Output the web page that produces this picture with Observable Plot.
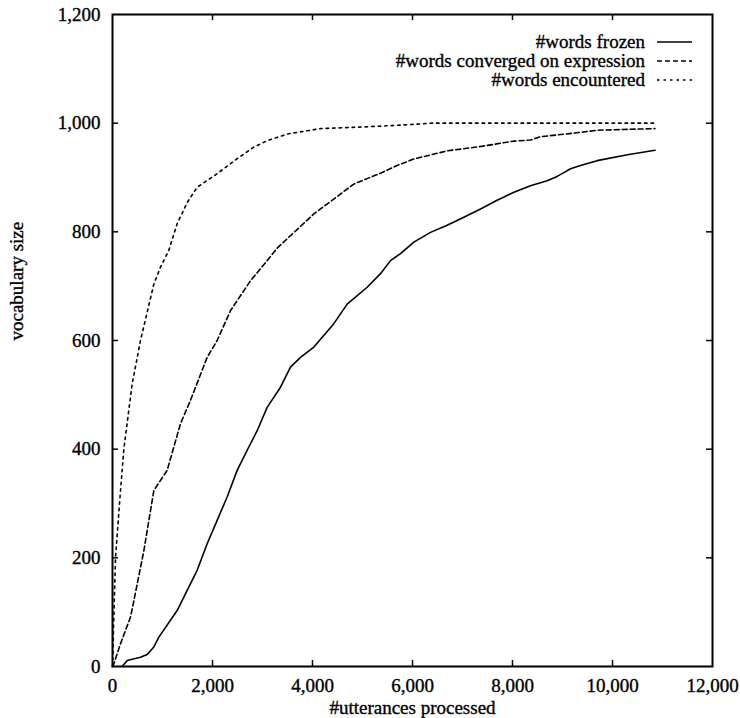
<!DOCTYPE html>
<html>
<head>
<meta charset="utf-8">
<script src="https://cdn.jsdelivr.net/npm/d3@7"></script>
<script src="https://cdn.jsdelivr.net/npm/@observablehq/plot@0.6"></script>
<style>
  html, body { margin: 0; padding: 0; background: #fff; }
  #wrap { position: relative; width: 740px; height: 718px; font-family: "Liberation Serif", "Times New Roman", serif; }
  #wrap svg text { stroke: #000; stroke-width: 0.35px; }
  #legend { position: absolute; right: 48px; top: 32px; font-size: 19px; color: #000; -webkit-text-stroke: 0.35px #000; }
  #legend .row { display: flex; align-items: center; justify-content: flex-end; height: 19px; line-height: 19px; }
  #legend svg { margin-left: 12px; }
</style>
</head>
<body>
<div id="wrap"></div>
<script>
// Data: [#utterances processed, vocabulary size]
const frozen = [
  [193,0],[293,11],[560,17],[693,22],[827,36],[927,54],[1293,103],[1493,140],[1693,177],
  [1893,226],[2093,269],[2293,312],[2493,361],[2693,398],[2893,434],[3093,477],[3360,514],
  [3560,551],[3760,569],[4027,588],[4427,631],[4693,667],[5093,698],[5360,723],[5560,747],
  [5760,760],[6027,781],[6360,799],[6693,812],[7027,827],[7360,842],[7693,858],[8027,873],
  [8360,885],[8693,894],[8893,902],[9027,909],[9160,916],[9360,922],[9693,931],[10300,942],[10850,950]
];
const converged = [
  [0,0],[27,5],[160,42],[360,91],[427,121],[627,213],[827,324],[1093,361],[1360,447],
  [1560,490],[1893,569],[2093,600],[2360,655],[2760,710],[3093,747],[3293,770],[4027,833],
  [4827,888],[5360,908],[5693,922],[6027,934],[6693,949],[7360,957],[8027,967],[8360,969],
  [8560,975],[9360,983],[9693,987],[10850,990]
];
const encountered = [
  [0,0],[30,100],[60,200],[140,300],[227,400],[393,520],[560,600],[827,704],[960,735],
  [1127,766],[1293,815],[1500,855],[1693,882],[2093,907],[2500,935],[2827,956],[3100,968],
  [3493,980],[4160,990],[5000,993],[5693,996],[6400,1000],[8000,1000],[10850,1000]
];
const seriesNames = ["#words frozen", "#words converged on expression", "#words encountered"];
const xTicks = [0, 2000, 4000, 6000, 8000, 10000, 12000];
const yTicks = [0, 200, 400, 600, 800, 1000, 1200];
const xInner = [2000, 4000, 6000, 8000, 10000];
const yInner = [200, 400, 600, 800, 1000];
const xLabel = "#utterances processed";
const yLabel = "vocabulary size";

const dashes = [null, "5,3", "2.5,4"];
const series = [frozen, converged, encountered];

const fmt = d3.format(",");
const plot = Plot.plot({
  width: 740,
  height: 718,
  marginLeft: 112,
  marginRight: 28,
  marginTop: 14,
  marginBottom: 52,
  style: { fontFamily: "Liberation Serif, Times New Roman, serif", fontSize: "19px", color: "#000", background: "#fff" },
  x: { domain: [0, 12000] },
  y: { domain: [0, 1200] },
  marks: [
    Plot.axisX({ ticks: xTicks, tickSize: 0, tickPadding: 12, tickFormat: fmt, label: null, fontSize: 19 }),
    Plot.axisY({ ticks: yTicks, tickSize: 0, tickPadding: 12, tickFormat: fmt, label: null, fontSize: 19 }),
    Plot.tickX(xInner, { x: d => d, insetTop: 646, stroke: "#000", strokeWidth: 1.5 }),
    Plot.tickX(xInner, { x: d => d, insetBottom: 646, stroke: "#000", strokeWidth: 1.5 }),
    Plot.tickY(yInner, { y: d => d, insetRight: 594, stroke: "#000", strokeWidth: 1.5 }),
    Plot.tickY(yInner, { y: d => d, insetLeft: 594, stroke: "#000", strokeWidth: 1.5 }),
    ...series.map((s, i) => Plot.line(s, {
      x: d => d[0], y: d => d[1], stroke: "#000", strokeWidth: 1.6,
      strokeDasharray: dashes[i], curve: "linear"
    })),
    Plot.frame({ stroke: "#000", strokeWidth: 2 }),
    Plot.text([xLabel], { frameAnchor: "bottom", lineAnchor: "middle", dy: 41, text: d => d, fontSize: 19, fill: "#000" }),
    Plot.text([yLabel], { frameAnchor: "left", lineAnchor: "middle", dx: -96, rotate: -90, text: d => d, fontSize: 19, fill: "#000" })
  ]
});

const wrap = document.getElementById("wrap");
wrap.appendChild(plot);

const legend = document.createElement("div");
legend.id = "legend";
seriesNames.forEach((name, i) => {
  const row = document.createElement("div");
  row.className = "row";
  const span = document.createElement("span");
  span.textContent = name;
  row.appendChild(span);
  const ns = "http://www.w3.org/2000/svg";
  const svg = document.createElementNS(ns, "svg");
  svg.setAttribute("width", "35");
  svg.setAttribute("height", "19");
  const ln = document.createElementNS(ns, "line");
  ln.setAttribute("x1", "0"); ln.setAttribute("x2", "35");
  ln.setAttribute("y1", "10"); ln.setAttribute("y2", "10");
  ln.setAttribute("stroke", "#000");
  ln.setAttribute("stroke-width", "1.5");
  if (dashes[i]) ln.setAttribute("stroke-dasharray", dashes[i]);
  svg.appendChild(ln);
  row.appendChild(svg);
  legend.appendChild(row);
});
wrap.appendChild(legend);
</script>
</body>
</html>
